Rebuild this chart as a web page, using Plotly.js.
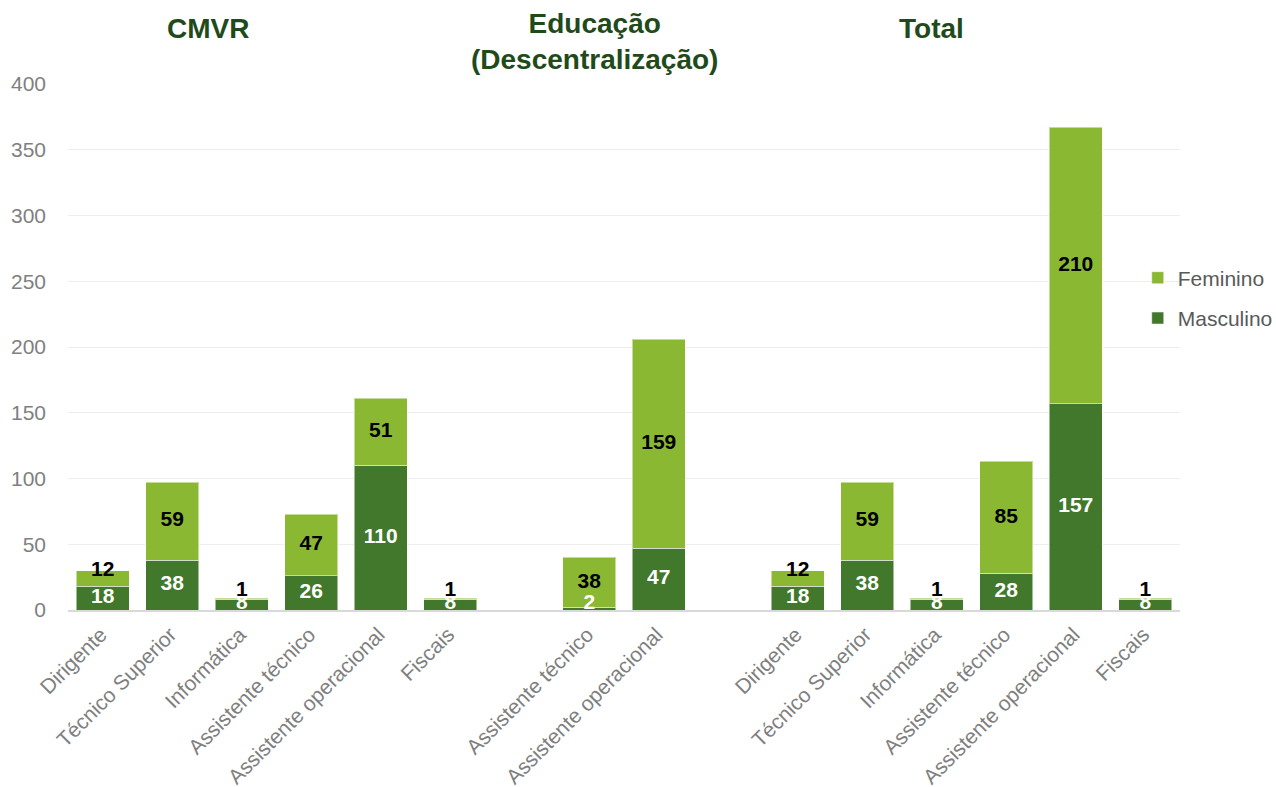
<!DOCTYPE html>
<html>
<head>
<meta charset="utf-8">
<script src="https://cdn.plot.ly/plotly-3.0.1.min.js"></script>
<style>html,body{margin:0;padding:0;background:#fff}#chart{width:1276px;height:787px}</style>
</head>
<body>
<div id="chart"></div>
<script>
// Data
const groupTitles = ["CMVR", "Educação<br>(Descentralização)", "Total"];
const cmvrCategories = ["Dirigente", "Técnico Superior", "Informática", "Assistente técnico", "Assistente operacional", "Fiscais"];
const cmvrMasculino = [18, 38, 8, 26, 110, 8];
const cmvrFeminino = [12, 59, 1, 47, 51, 1];
const eduCategories = ["Assistente técnico", "Assistente operacional"];
const eduMasculino = [2, 47];
const eduFeminino = [38, 159];
const totalCategories = ["Dirigente", "Técnico Superior", "Informática", "Assistente técnico", "Assistente operacional", "Fiscais"];
const totalMasculino = [18, 38, 8, 28, 157, 8];
const totalFeminino = [12, 59, 1, 85, 210, 1];

// Build slot positions (one empty slot between groups)
const groups = [
  {cats: cmvrCategories, m: cmvrMasculino, f: cmvrFeminino},
  {cats: eduCategories, m: eduMasculino, f: eduFeminino},
  {cats: totalCategories, m: totalMasculino, f: totalFeminino}
];
const xs = [], labels = [], masc = [], fem = [], groupCenters = [];
let pos = 0;
groups.forEach((g, gi) => {
  if (gi > 0) pos++; // empty slot between groups
  const start = pos;
  g.cats.forEach((c, i) => {
    xs.push(pos); labels.push(c); masc.push(g.m[i]); fem.push(g.f[i]); pos++;
  });
  groupCenters.push((start + pos - 1) / 2);
});
const lastX = xs[xs.length - 1];

const FEM = "#8AB833", MASC = "#41782B";
const font = "Liberation Sans, Arial, sans-serif";

const mascLabelY = masc.map(m => Math.max(m / 2, 5));
const femLabelY = fem.map((f, i) => f < 15 ? masc[i] + f / 2 + 6 : masc[i] + f / 2);

const traces = [
  {type: "bar", name: "Masculino", legendgroup: "m", legendrank: 2, x: xs, y: masc, marker: {color: MASC, line: {color: "rgba(255,255,255,0.5)", width: 1}}, hoverinfo: "y"},
  {type: "bar", name: "Feminino", legendgroup: "f", legendrank: 1, x: xs, y: fem, marker: {color: FEM, line: {color: "rgba(255,255,255,0.5)", width: 1}}, hoverinfo: "y"},
  {type: "scatter", mode: "text", x: xs, y: mascLabelY, text: masc.map(String), showlegend: false, cliponaxis: false,
   textfont: {family: font, size: 21, color: "#ffffff", weight: "bold"}, hoverinfo: "skip"},
  {type: "scatter", mode: "text", x: xs, y: femLabelY, text: fem.map(String), showlegend: false, cliponaxis: false,
   textfont: {family: font, size: 21, color: "#000000", weight: "bold"}, hoverinfo: "skip"}
];

const titleOffsets = [-0.99, -0.42, -0.57];
const titleY = [1.106, 1.081, 1.106];
const annotations = groupTitles.map((t, i) => ({
  text: "<b>" + t + "</b>", x: groupCenters[i] + titleOffsets[i], y: titleY[i], xref: "x", yref: "paper",
  showarrow: false, xanchor: "center", yanchor: "middle",
  font: {family: font, size: 28, color: "#1F4A1A"}
}));

const layout = {
  width: 1276, height: 787,
  margin: {l: 68, r: 96, t: 84, b: 177, autoexpand: false},
  paper_bgcolor: "#ffffff", plot_bgcolor: "#ffffff",
  barmode: "stack", bargap: 0.24,
  font: {family: font, size: 21, color: "#7F7F7F"},
  xaxis: {
    range: [-0.5, lastX + 0.5], tickmode: "array", tickvals: xs, ticktext: labels,
    tickangle: -45, showgrid: false, zeroline: false, showline: true, linecolor: "#D9D9D9", linewidth: 2,
    ticks: "", tickfont: {family: font, size: 21, color: "#7F7F7F"}, ticklabelshift: -2, ticklabelstandoff: 2
  },
  yaxis: {
    range: [0, 400], dtick: 50, showgrid: true, gridcolor: "#EDEDED", gridwidth: 1, zeroline: false,
    showline: false, ticks: "", tickfont: {family: font, size: 21, color: "#7F7F7F"}, ticklabelstandoff: 21
  },
  legend: {
    x: 0.962, xanchor: "left", xref: "paper", y: 0.593, yanchor: "middle", traceorder: "grouped",
    font: {family: font, size: 21, color: "#595959"}, itemwidth: 30, tracegroupgap: 10, bgcolor: "rgba(0,0,0,0)"
  },
  annotations: annotations,
  showlegend: true
};

Plotly.newPlot("chart", traces, layout, {displayModeBar: false, staticPlot: true});
</script>
</body>
</html>
